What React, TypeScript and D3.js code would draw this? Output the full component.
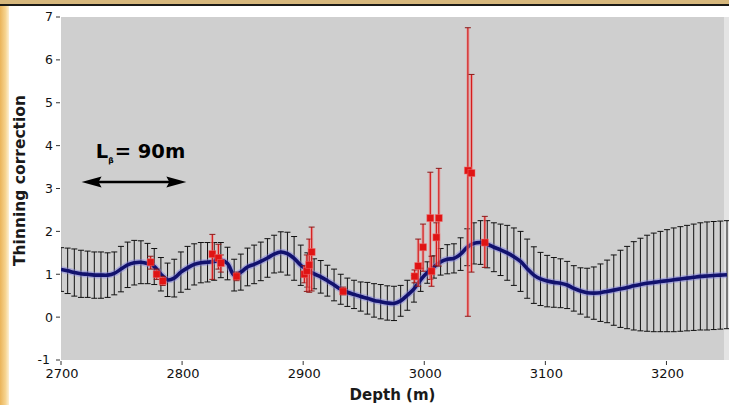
import React from 'react';
import * as d3 from 'd3';

const W = 729;
const H = 405;

const depth = [
  2700, 2705.5, 2711, 2716.5, 2722, 2727.5, 2733, 2738.5, 2744, 2749.5,
  2755, 2760.5, 2766, 2771.5, 2777, 2782.5, 2788, 2793.5, 2799, 2804.5,
  2810, 2815.5, 2821, 2826.5, 2832, 2837.5, 2843, 2848.5, 2854, 2859.5,
  2865, 2870.5, 2876, 2881.5, 2887, 2892.5, 2898, 2903.5, 2909, 2914.5,
  2920, 2925.5, 2931, 2936.5, 2942, 2947.5, 2953, 2958.5, 2964, 2969.5,
  2975, 2980.5, 2986, 2991.5, 2997, 3002.5, 3008, 3013.5, 3019, 3024.5,
  3030, 3035.5, 3041, 3046.5, 3052, 3057.5, 3063, 3068.5, 3074, 3079.5,
  3085, 3090.5, 3096, 3101.5, 3107, 3112.5, 3118, 3123.5, 3129, 3134.5,
  3140, 3145.5, 3151, 3156.5, 3162, 3167.5, 3173, 3178.5, 3184, 3189.5,
  3195, 3200.5, 3206, 3211.5, 3217, 3222.5, 3228, 3233.5, 3239, 3244.5,
  3250,
];

const meanCorr = [
  1.11, 1.08, 1.04, 1.01, 1.0, 0.98, 0.98, 0.98, 1.02, 1.12,
  1.22, 1.27, 1.28, 1.25, 1.18, 1.0, 0.87, 0.91, 1.05, 1.15,
  1.23, 1.27, 1.28, 1.3, 1.33, 1.25, 0.98, 1.05, 1.17, 1.23,
  1.3, 1.38, 1.47, 1.52, 1.48, 1.37, 1.21, 1.1, 1.01, 0.94,
  0.85, 0.75, 0.65, 0.58, 0.53, 0.48, 0.44, 0.39, 0.36, 0.33,
  0.32, 0.38, 0.51, 0.66, 0.87, 1.04, 1.17, 1.29, 1.35, 1.37,
  1.47, 1.63, 1.72, 1.74, 1.7, 1.63, 1.57, 1.5, 1.41, 1.3,
  1.13, 0.98, 0.89, 0.84, 0.81, 0.79, 0.75, 0.67, 0.61, 0.57,
  0.56, 0.57, 0.6, 0.63, 0.66, 0.69, 0.73, 0.76, 0.79, 0.81,
  0.83, 0.85, 0.87, 0.89, 0.91, 0.93, 0.95, 0.96, 0.97, 0.98,
  0.99,
];

const sdCorr = [
  0.51, 0.53, 0.55, 0.55, 0.54, 0.54, 0.54, 0.52, 0.5, 0.53,
  0.53, 0.52, 0.5, 0.47, 0.42, 0.39, 0.39, 0.44, 0.47, 0.5,
  0.48, 0.47, 0.46, 0.44, 0.41, 0.38, 0.37, 0.42, 0.44, 0.45,
  0.45, 0.45, 0.44, 0.47, 0.5, 0.51, 0.47, 0.4, 0.35, 0.38,
  0.36, 0.37, 0.35, 0.33, 0.33, 0.34, 0.37, 0.39, 0.4, 0.4,
  0.4, 0.36, 0.35, 0.31, 0.27, 0.25, 0.26, 0.31, 0.34, 0.34,
  0.38, 0.43, 0.48, 0.51, 0.55, 0.57, 0.6, 0.64, 0.67, 0.7,
  0.69, 0.66, 0.62, 0.6, 0.58, 0.57, 0.55, 0.53, 0.54, 0.57,
  0.61, 0.67, 0.73, 0.82, 0.9, 0.96, 1.03, 1.08, 1.12, 1.15,
  1.17, 1.19, 1.21, 1.22, 1.23, 1.24, 1.25, 1.26, 1.26, 1.26,
  1.26,
];

const obsDepth = [2774, 2779, 2784, 2825, 2830, 2832, 2845, 2901, 2903, 2905, 2907, 2933, 2992, 2995, 2999, 3005, 3006, 3010, 3012, 3036, 3039, 3050];
const obsValue = [1.28, 1.0, 0.84, 1.47, 1.38, 1.26, 0.95, 1.0, 1.08, 1.22, 1.52, 0.6, 0.95, 1.19, 1.63, 2.31, 1.07, 1.86, 2.31, 3.42, 3.36, 1.74];
const obsLow = [1.12, 0.88, 0.74, 0.88, 1.12, 1.05, 0.85, 0.8, 0.6, 0.58, 0.61, 0.52, 0.8, 0.72, 1.07, 0.88, 0.72, 1.2, 1.19, 0.02, 1.05, 1.16];
const obsHigh = [1.42, 1.12, 0.95, 1.93, 1.7, 1.45, 1.05, 1.2, 1.45, 1.82, 2.1, 0.7, 1.1, 1.82, 2.17, 3.38, 1.42, 2.2, 3.47, 6.75, 5.66, 2.35];

const xTicks = [2700, 2800, 2900, 3000, 3100, 3200];
const yTicks = [-1, 0, 1, 2, 3, 4, 5, 6, 7];

const FONT = "'DejaVu Sans', Verdana, sans-serif";

export default function App() {
  const plotL = 61;
  const plotR = 724;
  const plotT = 17;
  const plotB = 360;
  const x = d3.scaleLinear().domain([2700, 3250]).range([61, 727]);
  const y = d3.scaleLinear().domain([-1, 7]).range([plotB, plotT]);

  const line = d3
    .line<number>()
    .x((_, i) => x(depth[i]))
    .y((d) => y(d))
    .curve(d3.curveCatmullRom.alpha(0.5));
  const pathD = line(meanCorr) || '';

  const cap = 3;
  const sq = 7;

  const arrowY = y(3.15);
  const arrowX0 = x(2717);
  const arrowX1 = x(2803.5);

  return (
    <svg
      width={W}
      height={H}
      viewBox={`0 0 ${W} ${H}`}
      style={{ position: 'absolute', left: 0, top: 0, display: 'block' }}
    >
      <defs>
        <linearGradient id="goldL" x1="0" x2="1" y1="0" y2="0">
          <stop offset="0" stopColor="#eab45a" />
          <stop offset="0.6" stopColor="#f6d38e" />
          <stop offset="1" stopColor="#fdf0d4" />
        </linearGradient>
        <clipPath id="plotClip">
          <rect x={plotL} y={plotT} width={W - plotL} height={plotB - plotT} />
        </clipPath>
      </defs>
      <rect x={0} y={0} width={W} height={H} fill="#ffffff" />
      <rect x={0} y={0} width={9} height={H} fill="url(#goldL)" />
      <rect x={0} y={0} width={W} height={4} fill="#d6b77c" />
      <rect x={0} y={4} width={W} height={2} fill="#1b1a16" />

      <rect x={plotL} y={plotT} width={plotR - plotL} height={plotB - plotT} fill="#cfcfcf" />
      <rect x={plotR} y={plotT} width={W - plotR} height={plotB - plotT} fill="#e4e4e4" />

      <g clipPath="url(#plotClip)">
        {depth.map((d, i) => {
          const xx = x(d);
          const lo = y(meanCorr[i] - sdCorr[i]);
          const hi = y(meanCorr[i] + sdCorr[i]);
          return (
            <g key={`eb${i}`} stroke="#101010" strokeWidth={1}>
              <line x1={xx} x2={xx} y1={lo} y2={hi} />
              <line x1={xx - cap} x2={xx + cap} y1={lo} y2={lo} />
              <line x1={xx - cap} x2={xx + cap} y1={hi} y2={hi} />
            </g>
          );
        })}

        <path d={pathD} fill="none" stroke="#7b7be0" strokeOpacity={0.45} strokeWidth={6.5} strokeLinejoin="round" />
        <path d={pathD} fill="none" stroke="#12126e" strokeWidth={3.6} strokeLinejoin="round" />

        {obsDepth.map((d, i) => {
          const xx = x(d);
          const lo = y(obsLow[i]);
          const hi = y(obsHigh[i]);
          return (
            <g key={`ob${i}`}>
              <line x1={xx} x2={xx} y1={lo} y2={hi} stroke="#f08a8a" strokeOpacity={0.55} strokeWidth={3.2} />
              <line x1={xx} x2={xx} y1={lo} y2={hi} stroke="#d41c1c" strokeWidth={1.2} />
              <line x1={xx - cap} x2={xx + cap} y1={lo} y2={lo} stroke="#8a1a1a" strokeWidth={1} />
              <line x1={xx - cap} x2={xx + cap} y1={hi} y2={hi} stroke="#8a1a1a" strokeWidth={1} />
            </g>
          );
        })}
        {obsDepth.map((d, i) => (
          <rect
            key={`sq${i}`}
            x={x(d) - sq / 2}
            y={y(obsValue[i]) - sq / 2}
            width={sq}
            height={sq}
            fill="#e01414"
            stroke="#f07070"
            strokeOpacity={0.6}
            strokeWidth={0.8}
          />
        ))}
      </g>

      {/* annotation */}
      <g>
        <line x1={arrowX0 + 14} x2={arrowX1 - 14} y1={arrowY} y2={arrowY} stroke="#000" strokeWidth={2.6} />
        <polygon
          points={`${arrowX0},${arrowY} ${arrowX0 + 20},${arrowY - 5.5} ${arrowX0 + 17},${arrowY} ${arrowX0 + 20},${arrowY + 5.5}`}
          fill="#000"
        />
        <polygon
          points={`${arrowX1},${arrowY} ${arrowX1 - 20},${arrowY - 5.5} ${arrowX1 - 17},${arrowY} ${arrowX1 - 20},${arrowY + 5.5}`}
          fill="#000"
        />
        <text x={x(2728.8)} y={y(3.72)} fontFamily={FONT} fontWeight="bold" fontSize={19.5} fill="#000">
          L
          <tspan fontSize={7.5} dy={5} dx={0}>β</tspan>
          <tspan dy={-5} dx={1}>= 90m</tspan>
        </text>
      </g>

      {/* y axis */}
      <g fontFamily={FONT} fontSize={12.5} fill="#111">
        {yTicks.map((t) => (
          <g key={`yt${t}`}>
            <line x1={plotL - 5} x2={plotL - 1} y1={y(t)} y2={y(t)} stroke="#333" strokeWidth={1} />
            <text x={t === -1 ? plotL - 11 : plotL - 8} y={y(t)} dy="0.35em" textAnchor="end">
              {t === -1 ? '-1' : t}
            </text>
          </g>
        ))}
      </g>
      {/* x axis */}
      <g fontFamily={FONT} fontSize={13} fill="#111">
        {xTicks.map((t) => (
          <g key={`xt${t}`}>
            <line x1={x(t)} x2={x(t)} y1={plotB + 1} y2={plotB + 5} stroke="#333" strokeWidth={1} />
            <text x={x(t) + 1} y={plotB + 18} textAnchor="middle">
              {t}
            </text>
          </g>
        ))}
      </g>
      <text
        x={(plotL + plotR) / 2}
        y={400}
        textAnchor="middle"
        fontFamily={FONT}
        fontWeight="bold"
        fontSize={15}
        fill="#1a1a1a"
      >
        Depth (m)
      </text>
      <text
        transform={`translate(25, ${(plotT + plotB) / 2 - 8}) rotate(-90)`}
        textAnchor="middle"
        fontFamily={FONT}
        fontWeight="bold"
        fontSize={15.5}
        fill="#1a1a1a"
      >
        Thinning correction
      </text>
    </svg>
  );
}
